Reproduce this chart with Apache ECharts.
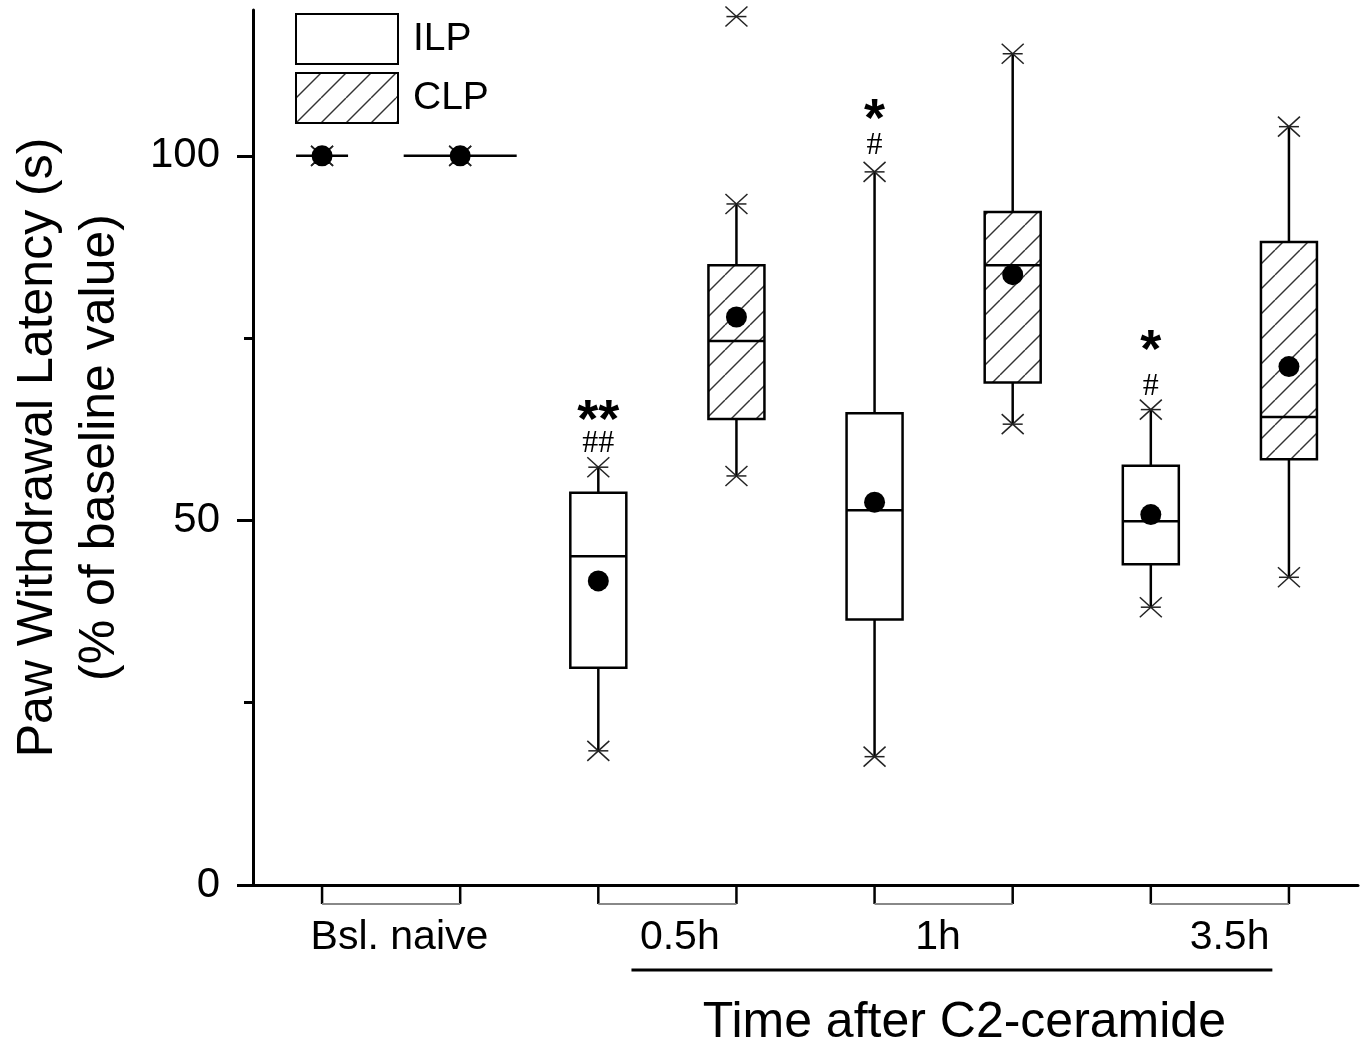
<!DOCTYPE html>
<html>
<head>
<meta charset="utf-8">
<script src="https://cdn.jsdelivr.net/npm/echarts@6/dist/echarts.min.js"></script>
<style>
  html, body { margin: 0; padding: 0; background: #fff; }
  #chart { width: 1365px; height: 1047px; }
</style>
</head>
<body>
<div id="chart"></div>
<script>
// x slot of every box: Bsl, 0.5h, 1h, 3.5h, each ILP then CLP
const slots = [0, 1, 2, 3, 4, 5, 6, 7];
const groupOf = ['ILP', 'CLP', 'ILP', 'CLP', 'ILP', 'CLP', 'ILP', 'CLP'];
const whiskerLow = [100, 100, 18.4, 56.1, 17.6, 63.2, 38.1, 42.2];
const q1 = [100, 100, 29.8, 63.9, 36.4, 68.9, 44.0, 58.4];
const median = [100, 100, 45.1, 74.6, 51.4, 85.0, 49.9, 64.2];
const q3 = [100, 100, 53.8, 85.0, 64.7, 92.3, 57.5, 88.2];
const whiskerHigh = [100, 100, 57.3, 93.4, 97.8, 114.0, 65.2, 104.0];
const means = [100, 100, 41.7, 77.9, 52.5, 83.7, 50.8, 71.1];

// single outlier above 0.5h CLP
const outlierX = [3];
const outlierY = [119.1];

// group labels under the axis
const timeLabels = ['Bsl. naive', '0.5h', '1h', '3.5h'];
const timeLabelPos = [0.56, 2.59, 4.46, 6.57];
const bracketPairs = [[0, 1], [2, 3], [4, 5], [6, 7]];
const timeSpan = [2.24, 6.88, 4.65];
const timeTitle = 'Time after C2-ceramide';

// significance marks
const sigX = [2, 4, 6];
const sigStars = ['**', '*', '*'];
const starY = [65.4, 106.7, 75.0];
const sigHashes = ['##', '#', '#'];
const hashY = [60.6, 101.4, 68.4];

const yMajor = [0, 50, 100];
const yMinor = [25, 75];

const FONT = '"Liberation Sans", Arial, sans-serif';
const BOX_HALF = 28;
const BASE_HALF = { ILP: 26, CLP: 56.5 };

// diagonal hatch for CLP
function makeHatch() {
  const s = 25;
  const c = document.createElement('canvas');
  c.width = s; c.height = s;
  const ctx = c.getContext('2d');
  ctx.fillStyle = '#fff';
  ctx.fillRect(0, 0, s, s);
  ctx.strokeStyle = '#333';
  ctx.lineWidth = 1.4;
  [0, s, 2 * s].forEach(k => {
    ctx.beginPath();
    ctx.moveTo(k - s, s);
    ctx.lineTo(k, 0);
    ctx.stroke();
  });
  return { image: c, repeat: 'repeat' };
}
const hatch = makeHatch();
const fills = { ILP: '#fff', CLP: hatch };

function starMark(x, y) {
  const st = { stroke: '#222', lineWidth: 1.5 };
  return [
    { type: 'line', shape: { x1: x - 11, y1: y - 10, x2: x + 11, y2: y + 10 }, style: st },
    { type: 'line', shape: { x1: x - 11, y1: y + 10, x2: x + 11, y2: y - 10 }, style: st },
    { type: 'line', shape: { x1: x - 10, y1: y, x2: x + 10, y2: y }, style: st }
  ];
}

function boxSeries(group) {
  const data = [];
  slots.forEach((x, i) => {
    if (groupOf[i] === group) {
      data.push([x, whiskerLow[i], q1[i], median[i], q3[i], whiskerHigh[i]]);
    }
  });
  return {
    name: group,
    type: 'custom',
    z: 3,
    data: data,
    renderItem: function (params, api) {
      const cx = api.coord([api.value(0), 0])[0];
      const yLow = api.coord([0, api.value(1)])[1];
      const yQ1 = api.coord([0, api.value(2)])[1];
      const yMed = api.coord([0, api.value(3)])[1];
      const yQ3 = api.coord([0, api.value(4)])[1];
      const yHigh = api.coord([0, api.value(5)])[1];
      const half = params.dataIndex === 0 ? BASE_HALF[group] : BOX_HALF;
      const line = { stroke: '#000', lineWidth: 2.5 };
      let children = [];
      children.push({ type: 'line', shape: { x1: cx, y1: yQ3, x2: cx, y2: yHigh }, style: line });
      children.push({ type: 'line', shape: { x1: cx, y1: yQ1, x2: cx, y2: yLow }, style: line });
      children = children.concat(starMark(cx, yHigh), starMark(cx, yLow));
      if (yQ1 - yQ3 > 0.5) {
        children.push({
          type: 'rect',
          shape: { x: cx - half, y: yQ3, width: half * 2, height: yQ1 - yQ3 },
          style: { fill: fills[group], stroke: '#000', lineWidth: 2.5 }
        });
      }
      children.push({ type: 'line', shape: { x1: cx - half, y1: yMed, x2: cx + half, y2: yMed }, style: line });
      return { type: 'group', children: children };
    }
  };
}

const chart = echarts.init(document.getElementById('chart'));

const option = {
  backgroundColor: '#fff',
  animation: false,
  grid: { left: 253, right: 7, top: 10, bottom: 162, outerBoundsMode: 'none' },
  legend: {
    data: [
      { name: 'ILP', icon: 'rect', itemStyle: { color: '#fff', borderColor: '#000', borderWidth: 2 } },
      { name: 'CLP', icon: 'rect', itemStyle: { color: hatch, borderColor: '#000', borderWidth: 2 } }
    ],
    orient: 'vertical',
    left: 295,
    top: 13,
    padding: 0,
    itemWidth: 102,
    itemHeight: 50,
    itemGap: 7,
    selectedMode: false,
    textStyle: { fontSize: 39, fontFamily: FONT, color: '#000', padding: [0, 0, 0, 10] }
  },
  xAxis: {
    type: 'value',
    min: -0.5,
    max: 7.5,
    splitLine: { show: false },
    axisTick: { show: false },
    axisLine: { show: true, lineStyle: { color: '#000', width: 3 } },
    axisLabel: {
      customValues: timeLabelPos,
      formatter: v => timeLabels[timeLabelPos.indexOf(v)] || '',
      margin: 32,
      fontSize: 41,
      fontFamily: FONT,
      color: '#000'
    }
  },
  yAxis: [
    {
      type: 'value',
      min: 0,
      max: 120,
      splitLine: { show: false },
      axisLine: { show: true, onZero: false, lineStyle: { color: '#000', width: 3 } },
      axisTick: { show: true, customValues: yMajor, length: 16, lineStyle: { color: '#000', width: 3 } },
      axisLabel: { customValues: yMajor, margin: 33, fontSize: 42, fontFamily: FONT, color: '#000' },
      name: 'Paw Withdrawal Latency (s)\n(% of baseline value)',
      nameLocation: 'middle',
      nameRotate: 90,
      nameGap: 122,
      nameTextStyle: { fontSize: 50, lineHeight: 62, fontFamily: FONT, color: '#000' }
    },
    {
      type: 'value',
      min: 0,
      max: 120,
      position: 'left',
      splitLine: { show: false },
      axisLine: { show: false, onZero: false },
      axisTick: { show: true, customValues: yMinor, length: 9, lineStyle: { color: '#000', width: 3 } },
      axisLabel: { show: false }
    }
  ],
  series: [
    boxSeries('ILP'),
    boxSeries('CLP'),
    {
      name: 'mean',
      type: 'scatter',
      z: 5,
      symbol: 'circle',
      symbolSize: 21,
      itemStyle: { color: '#000', opacity: 1 },
      data: slots.map((x, i) => [x, means[i]])
    },
    {
      name: 'outlier',
      type: 'custom',
      z: 4,
      data: outlierX.map((x, i) => [x, outlierY[i]]),
      renderItem: function (params, api) {
        const p = api.coord([api.value(0), api.value(1)]);
        return { type: 'group', children: starMark(p[0], p[1]) };
      }
    },
    {
      name: 'sig',
      type: 'custom',
      z: 4,
      data: sigX.map((x, i) => [x, starY[i], hashY[i]]),
      renderItem: function (params, api) {
        const i = params.dataIndex;
        const ps = api.coord([api.value(0), api.value(1)]);
        const ph = api.coord([api.value(0), api.value(2)]);
        return {
          type: 'group',
          children: [
            { type: 'text', x: ps[0], y: ps[1] + 14, style: { text: sigStars[i], fill: '#000', font: 'bold 54px ' + FONT, align: 'center', verticalAlign: 'middle' } },
            { type: 'text', x: ph[0], y: ph[1], style: { text: sigHashes[i], fill: '#000', font: '32px "Liberation Serif", serif', align: 'center', verticalAlign: 'middle' } }
          ]
        };
      }
    },
    {
      name: 'brackets',
      type: 'custom',
      clip: false,
      z: 2,
      data: bracketPairs,
      renderItem: function (params, api) {
        const a = api.coord([api.value(0), 0]);
        const b = api.coord([api.value(1), 0]);
        const yb = a[1] + 19;
        return {
          type: 'group',
          children: [
            { type: 'line', shape: { x1: a[0], y1: a[1], x2: a[0], y2: yb }, style: { stroke: '#000', lineWidth: 2.5 } },
            { type: 'line', shape: { x1: b[0], y1: a[1], x2: b[0], y2: yb }, style: { stroke: '#000', lineWidth: 2.5 } },
            { type: 'line', shape: { x1: a[0], y1: yb, x2: b[0], y2: yb }, style: { stroke: '#888', lineWidth: 2 } }
          ]
        };
      }
    },
    {
      name: 'timeAxis',
      type: 'custom',
      clip: false,
      z: 2,
      data: [timeSpan],
      renderItem: function (params, api) {
        const a = api.coord([api.value(0), 0]);
        const b = api.coord([api.value(1), 0]);
        const c = api.coord([api.value(2), 0]);
        return {
          type: 'group',
          children: [
            { type: 'line', shape: { x1: a[0], y1: a[1] + 85, x2: b[0], y2: a[1] + 85 }, style: { stroke: '#000', lineWidth: 3 } },
            { type: 'text', x: c[0], y: a[1] + 138, style: { text: timeTitle, fill: '#000', font: '50px ' + FONT, align: 'center', verticalAlign: 'middle' } }
          ]
        };
      }
    }
  ]
};

chart.setOption(option);
</script>
</body>
</html>
